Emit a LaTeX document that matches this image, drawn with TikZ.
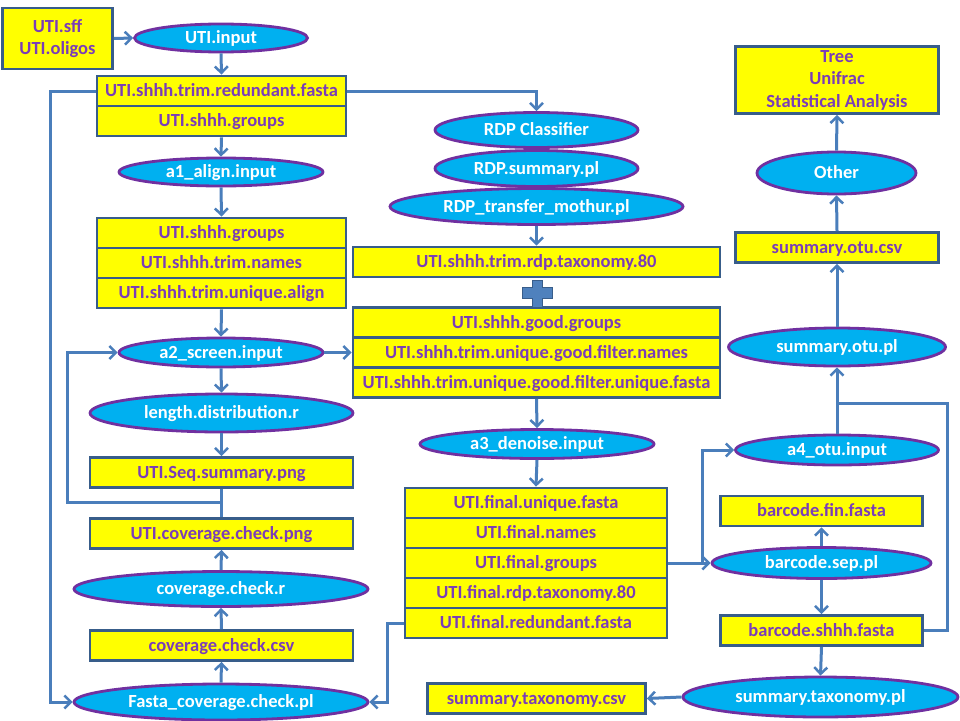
\documentclass[tikz,border=0pt]{standalone}
\usepackage{fontspec}
\setmainfont{Carlito}
\usetikzlibrary{shapes.geometric,arrows.meta}
\definecolor{boxfill}{HTML}{FFFF00}
\definecolor{boxline}{HTML}{385D8A}
\definecolor{ellfill}{HTML}{00B0F0}
\definecolor{ellline}{HTML}{7030A0}
\definecolor{txtpurple}{HTML}{7A3DB8}
\definecolor{arrcol}{HTML}{4A7EBB}
\definecolor{plusfill}{HTML}{4F81BD}
\newcommand{\ZW}[1]{\makebox[0pt]{#1}}
\begin{document}
\begin{tikzpicture}[x=1pt,y=-1pt,
  filebox/.style={draw=boxline, fill=boxfill, line width=2.8pt, inner sep=0pt,
    text=txtpurple, font=\fontsize{18.5}{22}\selectfont\bfseries, align=center},
  onebox/.style={filebox, text height=13.5pt, text depth=2.5pt},
  proc/.style={ellipse, draw=ellline, fill=ellfill, line width=2.8pt, inner sep=0pt,
    text=white, font=\fontsize{18.5}{22}\selectfont\bfseries, text height=13.5pt, text depth=2.5pt},
  conn/.style={draw=arrcol, line width=3pt},
  arr/.style={conn, -{Straight Barb[length=6.5pt,width=13pt,line width=2.5pt]}}]
\useasboundingbox (0,0) rectangle (960,720);

% ---------- left column ----------
\node[filebox, minimum width=110pt, minimum height=61pt] (src) at (57.5,38.5) {UTI.sff\\UTI.oligos};
\node[proc, minimum width=173pt, minimum height=28pt] (input) at (221,38) {\ZW{UTI.input}};
\node[onebox, minimum width=249pt, minimum height=30pt] (s1a) at (221.5,91) {UTI.shhh.trim.redundant.fasta};
\node[onebox, minimum width=249pt, minimum height=30pt] (s1b) at (221.5,121) {UTI.shhh.groups};
\node[proc, minimum width=204pt, minimum height=28pt] (a1) at (221,172) {\ZW{a1\_align.input}};
\node[onebox, minimum width=249pt, minimum height=30pt] (s2a) at (221.5,233) {UTI.shhh.groups};
\node[onebox, minimum width=249pt, minimum height=30pt] (s2b) at (221.5,263) {UTI.shhh.trim.names};
\node[onebox, minimum width=249pt, minimum height=30pt] (s2c) at (221.5,293) {UTI.shhh.trim.unique.align};
\node[proc, minimum width=204pt, minimum height=29pt] (a2) at (221,352.5) {\ZW{a2\_screen.input}};
\node[proc, minimum width=263pt, minimum height=38pt] (len) at (221.5,413) {\ZW{length.distribution.r}};
\node[onebox, minimum width=263pt, minimum height=30pt] (seq) at (221.5,472.5) {UTI.Seq.summary.png};
\node[onebox, minimum width=263pt, minimum height=30pt] (covpng) at (221.5,533.5) {UTI.coverage.check.png};
\node[proc, minimum width=294pt, minimum height=35pt] (covr) at (221,589) {\ZW{coverage.check.r}};
\node[onebox, minimum width=263pt, minimum height=30pt] (covcsv) at (221.5,645.5) {coverage.check.csv};
\node[proc, minimum width=294pt, minimum height=36pt] (fcp) at (221,702) {\ZW{Fasta\_coverage.check.pl}};

% ---------- middle column ----------
\node[proc, minimum width=203pt, minimum height=35pt] (rdpc) at (536.5,130) {\ZW{RDP Classifier}};
\node[proc, minimum width=203pt, minimum height=36pt] (rdps) at (536.5,168.5) {\ZW{RDP.summary.pl}};
\node[proc, minimum width=293pt, minimum height=36pt] (rdpt) at (536.5,206.5) {\ZW{RDP\_transfer\_mothur.pl}};
\node[onebox, minimum width=367pt, minimum height=30pt] (tax80) at (536.5,262) {UTI.shhh.trim.rdp.taxonomy.80};
\node[onebox, minimum width=367pt, minimum height=30pt] (s4a) at (536.5,322.5) {UTI.shhh.good.groups};
\node[onebox, minimum width=367pt, minimum height=30pt] (s4b) at (536.5,352.5) {UTI.shhh.trim.unique.good.filter.names};
\node[onebox, minimum width=367pt, minimum height=30pt] (s4c) at (536.5,382.5) {UTI.shhh.trim.unique.good.filter.unique.fasta};
\node[proc, minimum width=234pt, minimum height=29pt] (a3) at (537,444) {\ZW{a3\_denoise.input}};
\node[onebox, minimum width=262pt, minimum height=30pt] (s5a) at (536,503) {UTI.final.unique.fasta};
\node[onebox, minimum width=262pt, minimum height=30pt] (s5b) at (536,533) {UTI.final.names};
\node[onebox, minimum width=262pt, minimum height=30pt] (s5c) at (536,563) {UTI.final.groups};
\node[onebox, minimum width=262pt, minimum height=30pt] (s5d) at (536,593) {UTI.final.rdp.taxonomy.80};
\node[onebox, minimum width=262pt, minimum height=30pt] (s5e) at (536,623) {UTI.final.redundant.fasta};
\node[onebox, minimum width=218pt, minimum height=30pt] (stcsv) at (536.5,698.5) {summary.taxonomy.csv};

% plus sign
\draw[draw=boxline, fill=plusfill, line width=1pt]
  (532,280) -- (542,280) -- (542,287) -- (552,287) -- (552,298) -- (542,298) -- (542,307)
  -- (532,307) -- (532,298) -- (522,298) -- (522,287) -- (532,287) -- cycle;

% ---------- right column ----------
\node[filebox, minimum width=203pt, minimum height=67pt, font=\fontsize{18.5}{22.5}\selectfont\bfseries] (tree) at (837,80) {Tree\\Unifrac\\Statistical Analysis};
\node[proc, minimum width=159pt, minimum height=42pt] (other) at (836.5,173) {\ZW{Other}};
\node[onebox, minimum width=203pt, minimum height=30pt] (sotucsv) at (837,247.5) {summary.otu.csv};
\node[proc, minimum width=217pt, minimum height=38pt] (sotupl) at (837,347) {\ZW{summary.otu.pl}};
\node[proc, minimum width=203pt, minimum height=30pt] (a4) at (837,450) {\ZW{a4\_otu.input}};
\node[onebox, minimum width=202pt, minimum height=30pt] (bfin) at (821.5,511) {barcode.fin.fasta};
\node[proc, minimum width=219pt, minimum height=31pt] (bsep) at (821.5,563) {\ZW{barcode.sep.pl}};
\node[onebox, minimum width=202pt, minimum height=30pt] (bshhh) at (821.5,630.5) {barcode.shhh.fasta};
\node[proc, minimum width=275pt, minimum height=40pt] (stp) at (820.5,697) {\ZW{summary.taxonomy.pl}};

% ---------- connectors ----------
\draw[arr] (src.east) -- (input.west);
\draw[arr] (input.south) -- (s1a.north);
\draw[arr] (s1a.west) -- ++(-45,0) |- (fcp.west);
\draw[arr] (s1a.east) -| (rdpc.north);
\draw[arr] (s1b.south) -- (a1.north);
\draw[arr] (a1.south) -- (s2a.north);
\draw[arr] (s2c.south) -- (a2.north);
\draw[arr] (a2.east) -- (s4b.west);
\draw[arr] (a2.south) -- (len.north);
\draw[arr] (len.south) -- (seq.north);
\draw[conn] (seq.south) -- (covpng.north);
\coordinate (j1) at (221.5,502);
\draw[arr] (j1) -- (67,502) |- (a2.west);
\draw[arr] (covr.north) -- (covpng.south);
\draw[arr] (covcsv.north) -- (covr.south);
\draw[arr] (fcp.north) -- (covcsv.south);
\draw[arr] (s5e.west) -- (387,623) |- (fcp.east);

\draw[arr] (rdpt.south) -- (tax80.north);
\draw[arr] (s4c.south) -- (a3.north);
\draw[arr] (a3.south) -- (s5a.north);

\coordinate (j2) at (702,563);
\draw[arr] (s5c.east) -- (j2) -- (bsep.west);
\draw[arr] (j2) |- (a4.west);
\draw[arr] (bsep.north) -- (bfin.south);
\draw[arr] (bsep.south) -- (bshhh.north);
\draw[arr] (bshhh.south) -- (stp.north);
\draw[arr] (stp.west) -- (stcsv.east);
\coordinate (j3) at (837,403);
\draw[conn] (bshhh.east) -- (947,630.5) |- (j3);
\draw[arr] (a4.north) -- (sotupl.south);
\draw[arr] (sotupl.north) -- (sotucsv.south);
\draw[arr] (sotucsv.north) -- (other.south);
\draw[arr] (other.north) -- (tree.south);
\end{tikzpicture}
\end{document}
